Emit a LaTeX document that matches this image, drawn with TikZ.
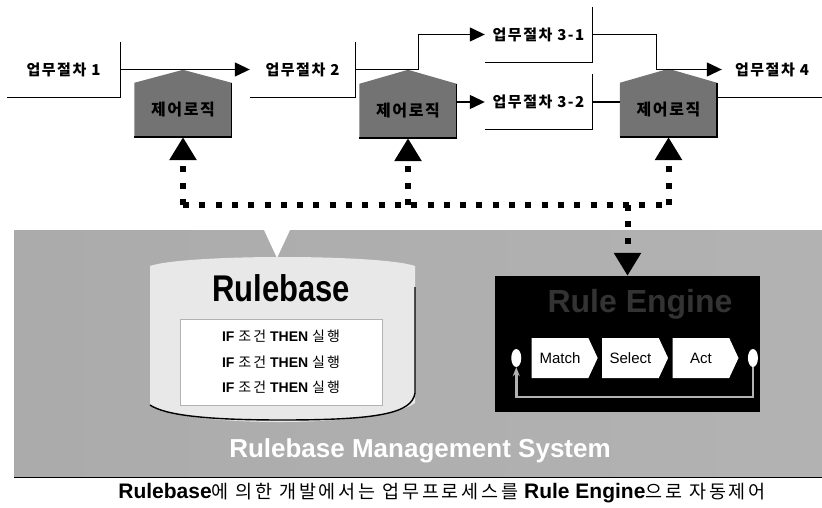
\documentclass[tikz,border=0pt]{standalone}
\usepackage{fontspec}
\usepackage{graphicx}
\setmainfont{Liberation Sans}
\newfontfamily\kr{Noto Sans CJK KR}
\newfontfamily\krsp[LetterSpace=15]{Noto Sans CJK KR}
\newfontfamily\krlbl[LetterSpace=10]{Noto Sans CJK KR}
\usetikzlibrary{arrows.meta, positioning, shapes.symbols, shapes.geometric, calc, backgrounds}
\definecolor{housegray}{gray}{0.45}
\definecolor{titlegray}{gray}{0.2}
\tikzset{
    stagelbl/.style={rectangle, minimum height=55pt, inner sep=0pt, font=\krlbl\bfseries\fontsize{15}{17}\selectfont},
    bracket/.style={line width=1.3pt, black},
    flow/.style={-{Triangle[length=15pt,width=14pt]}, line width=1.3pt, black},
    ctrl/.style={rectangle, minimum width=97pt, minimum height=54pt, inner sep=0pt, font=\krlbl\bfseries\fontsize{16}{18}\selectfont},
    dotline/.style={line width=6pt, dash pattern=on 6pt off 10.3pt, black},
    bigtip/.style={-{Triangle[length=23pt,width=26pt]}},
}

\begin{document}
\begin{tikzpicture}[
    x=1pt, y=1pt,
    node distance=4pt,
    panel/.style={rectangle, minimum width=808pt, minimum height=247pt, inner sep=0pt, left color=gray!66, middle color=gray!36, right color=gray!60},
    rulesbox/.style={rectangle, fill=white, draw=gray!60, line width=0.8pt, minimum width=202pt, minimum height=86pt, align=center, font=\fontsize{14}{25.5}\selectfont\bfseries},
    engine/.style={rectangle, fill=black, minimum width=265pt, minimum height=136pt, inner sep=0pt},
    chev/.style={signal, signal to=east, signal pointer angle=130, fill=white, minimum width=66pt, minimum height=40pt, inner sep=0pt, font=\fontsize{15}{17}\selectfont},
    oval/.style={ellipse, fill=white, minimum width=10pt, minimum height=18pt, inner sep=0pt},
    cycleline/.style={-{Stealth[length=9pt,width=7pt]}, line width=2.5pt, gray!60},
    >=Stealth
]
\useasboundingbox (0,0) rectangle (822,-508);

% Process flow: stages
\node[stagelbl, minimum width=113pt] (s1) at (63.5,-69.5) {업무절차 1};
\node[stagelbl, minimum width=105pt] (s2) at (302.5,-69.5) {업무절차 2};
\node[stagelbl, minimum width=107pt] (s31) at (538.5,-34.5) {업무절차 3-1};
\node[stagelbl, minimum width=107pt] (s32) at (538.5,-102) {업무절차 3-2};
\node[stagelbl, minimum width=100pt] (s4) at (772,-69.5) {업무절차 4};

\draw[bracket] (s1.north east) -- (s1.south east) -- (s1.south west);
\draw[bracket] (s2.north east) -- (s2.south east) -- (s2.south west);
\draw[bracket] (s31.north east) -- (s31.south east) -- (s31.south west);
\draw[bracket] (s32.north east) -- (s32.south east) -- (s32.south west);

% Control logic houses
\node[ctrl] (cl1) at (183,-110) {제어로직};
\node[ctrl] (cl2) at (408,-111) {제어로직};
\node[ctrl] (cl3) at (668.5,-110) {제어로직};

\begin{scope}[on background layer]
\fill[housegray] (cl1.south west) -- (cl1.north west) -- ($(cl1.north)+(0,13)$) -- (cl1.north east) -- (cl1.south east) -- cycle;
\fill[housegray] (cl2.south west) -- (cl2.north west) -- ($(cl2.north)+(0,14)$) -- (cl2.north east) -- (cl2.south east) -- cycle;
\fill[housegray] (cl3.south west) -- (cl3.north west) -- ($(cl3.north)+(0,14)$) -- (cl3.north east) -- (cl3.south east) -- cycle;
\end{scope}
\draw[line width=1.5pt] (cl1.north east) -- (cl1.south east) -- (cl1.south west);
\draw[line width=1.5pt] (cl2.north east) -- (cl2.south east) -- (cl2.south west);
\draw[line width=1.5pt] (cl3.north east) -- (cl3.south east) -- (cl3.south west);

% Flow arrows
\draw[flow] (s1.east) -- (s2.west);
\draw[flow] (s2.east) -- ++(63,0) |- (s31.west);
\draw[flow] (cl2.east |- s32.west) -- (s32.west);
\draw[flow] (s31.east) -- ++(64,0) |- (s4.west);
\draw[bracket] (s32.east) -- (cl3.west |- s32.east);
\draw[bracket] (cl3.east |- s4.south) -- (s4.south east);

% Rulebase Management System panel
\node[panel] (rbms) at (418,-353.5) {};
\draw[line width=1.2pt] (rbms.south west) -- (rbms.south east);
\fill[white] (264,-230) -- (290,-230) -- (277,-258) -- cycle;

% Rulebase cylinder
\fill[gray!18] (150,-266) -- (150,-405) .. controls (185,-428) and (380,-428) .. (415,-403) -- (415,-266) .. controls (380,-254) and (185,-254) .. cycle;
\draw[line width=1.4pt] (415,-287) -- (415,-393) .. controls (412,-413) and (380,-420) .. (282,-420) .. controls (205,-420) and (165,-415) .. (150,-405);
\node[font=\fontsize{31}{33}\selectfont\bfseries] (rbtitle) at (281,-288) {\scalebox{1}[1.2]{Rulebase}};
\node[rulesbox] (rules) at (281,-362) {IF {\krsp\mdseries 조건} THEN {\krsp\mdseries 실행}\\IF {\krsp\mdseries 조건} THEN {\krsp\mdseries 실행}\\IF {\krsp\mdseries 조건} THEN {\krsp\mdseries 실행}};

% Rule Engine
\node[engine] (eng) at (627.5,-344) {};
\node[font=\fontsize{32}{34}\selectfont\bfseries, text=titlegray] (engt) at (640,-304) {Rule Engine};
\node[chev] (match) at (560,-358) {Match};
\node[chev, right=of match] (sel) {Select};
\node[chev, right=of sel] (act) {Act};
\node[oval, left=10pt of match] (ovl) {};
\node[oval, right=9pt of act] (ovr) {};
\draw[cycleline] (ovr.south) -- ++(0,-30) -| (ovl.south);

\node[font=\fontsize{26}{28}\selectfont\bfseries, text=white] (rbmslbl) at (420,-451) {Rulebase Management System};

% Dotted control links
\coordinate (bus) at (0,-205);
\draw[dotline] (cl1.south |- bus) -- (cl3.south |- bus);
\draw[dotline, bigtip] (cl1.south |- bus) -- (cl1.south);
\draw[dotline, bigtip] (cl2.south |- bus) -- (cl2.south);
\draw[dotline, bigtip] (cl3.south |- bus) -- (cl3.south);
\draw[dotline, bigtip] (eng.north |- bus) -- (eng.north);

% Caption
\node[font=\fontsize{21}{23}\selectfont] (cap) at (442,-493) {{\bfseries Rulebase}{\krsp\fontsize{18.5}{23}\selectfont 에 의한 개발에서는 업무프로세스를} {\bfseries Rule Engine}{\krsp\fontsize{18.5}{23}\selectfont 으로 자동제어}};

\end{tikzpicture}
\end{document}
